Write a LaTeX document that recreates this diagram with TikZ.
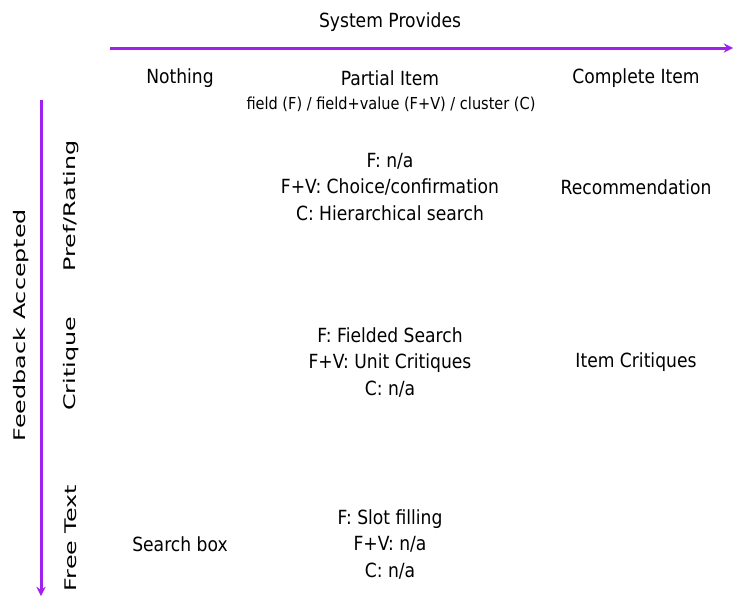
\documentclass[tikz,border=0pt]{standalone}
\usepackage{fontspec}
\setmainfont{DejaVu Sans}[FakeStretch=0.88]
\newfontfamily\sidefont{DejaVu Sans}[FakeStretch=1.49]
\usepackage{xcolor}
\usepackage{tikz}
\definecolor{axispurple}{HTML}{A020F0}

\begin{document}
\begin{tikzpicture}[>=stealth, x=1pt, y=-1pt,
  cell/.style={align=center, inner sep=0pt, font=\fontsize{19.5}{26.5}\selectfont},
  sublabel/.style={inner sep=0pt, font=\fontsize{16.5}{18}\selectfont},
  rowlabel/.style={inner sep=0pt, rotate=90, font=\sidefont\fontsize{16}{18}\selectfont}]
  \useasboundingbox (0,0) rectangle (734,597);
  % axes
  \coordinate (xstart) at (110,48);
  \coordinate (xend) at (733,48);
  \coordinate (ystart) at (41,100);
  \coordinate (yend) at (41,596);
  \draw[->, line width=3pt, axispurple] (xstart) -- (xend);
  \draw[->, line width=3pt, axispurple] (ystart) -- (yend);
  \node[cell] (sysprov) at (390,22) {System Provides};
  \node[rowlabel] (feedback) at (21,325) {Feedback Accepted};
  % column heads
  \node[cell] (nothing) at (180,78) {Nothing};
  \node[cell] (partial) at (390,78) {Partial Item};
  \node[cell] (complete) at (636,78) {Complete Item};
  \node[sublabel] (partsub) at (391,104) {field (F) / field+value (F+V) / cluster (C)};
  % row heads
  \node[rowlabel] (prefrating) at (71,206) {Pref/Rating};
  \node[rowlabel] (critique) at (71,364) {Critique};
  \node[rowlabel] (freetext) at (71,538) {Free Text};
  % cells
  \node[cell] (prefpart) at (390,187) {F: n/a\\F+V: Choice/confirmation\\C: Hierarchical search};
  \node[cell] (prefcomp) at (636,187) {Recommendation};
  \node[cell] (critpart) at (390,362) {F: Fielded Search\\F+V: Unit Critiques\\C: n/a};
  \node[cell] (critcomp) at (636,362) {Item Critiques};
  \node[cell] (freenone) at (180,544) {Search box};
  \node[cell] (freepart) at (390,544) {F: Slot filling\\F+V: n/a\\C: n/a};
\end{tikzpicture}
\end{document}
